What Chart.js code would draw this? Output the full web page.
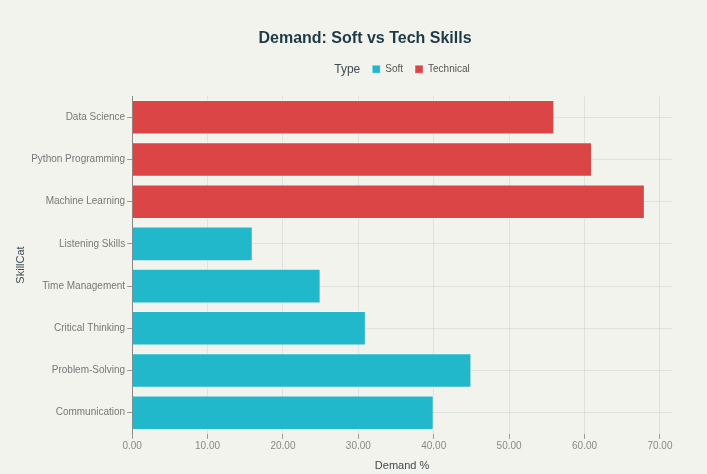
<!DOCTYPE html>
<html>
<head>
<meta charset="utf-8">
<script src="https://cdn.jsdelivr.net/npm/chart.js@4"></script>
<style>
  html, body { margin: 0; padding: 0; background: #f3f3ee; }
  #wrap { width: 707px; height: 474px; }
</style>
</head>
<body>
<div id="wrap"><canvas id="skillChart" width="707" height="474"></canvas></div>
<script>
// data
const skills = ["Data Science", "Python Programming", "Machine Learning", "Listening Skills",
    "Time Management", "Critical Thinking", "Problem-Solving", "Communication"];
const softValues = [null, null, null, 16, 25, 31, 45, 40];
const techValues = [56, 61, 68, null, null, null, null, null];
const xTicks = [0, 10, 20, 30, 40, 50, 60, 70];

const FONT = "'Liberation Sans', Arial, sans-serif";

// legend a bit taller, legend + title nudged right, and "Type" drawn before the items
const legendTweaks = {
    id: "legendTweaks",
    beforeInit(chart) {
        const fit = chart.legend.fit;
        chart.legend.fit = function () {
            fit.call(this);
            this.height += 12;
        };
    },
    afterLayout(chart) {
        const lg = chart.legend;
        const dx = 421 - (lg.left + lg.right) / 2;
        lg.left += dx;
        lg.right += dx;
        const t = chart.titleBlock;
        const tx = 365 - (t.left + t.right) / 2;
        t.left += tx;
        t.right += tx;
    },
    afterDraw(chart) {
        const boxes = chart.legend.legendHitBoxes;
        if (!boxes || !boxes.length) return;
        const c = chart.ctx;
        c.save();
        c.font = "12px " + FONT;
        c.fillStyle = "#3d4b52";
        c.textAlign = "right";
        c.textBaseline = "middle";
        c.fillText("Type", boxes[0].left - 12, boxes[0].top + boxes[0].height / 2);
        c.restore();
    }
};

document.addEventListener("DOMContentLoaded", function () {
    const ctx = document.getElementById("skillChart").getContext("2d");
    new Chart(ctx, {
        type: "bar",
        data: {
            labels: skills,
            datasets: [{
                label: "Soft",
                data: softValues,
                backgroundColor: "#21b8cc",
                borderColor: "rgba(255,255,255,0.35)",
                borderWidth: 1
            }, {
                label: "Technical",
                data: techValues,
                backgroundColor: "#db4545",
                borderColor: "rgba(255,255,255,0.35)",
                borderWidth: 1
            }]
        },
        options: {
            indexAxis: "y",
            responsive: false,
            animation: false,
            devicePixelRatio: 1,
            layout: { padding: { left: 14, right: 35, top: 19, bottom: 1 } },
            datasets: { bar: { grouped: false, categoryPercentage: 0.82, barPercentage: 1 } },
            plugins: {
                title: {
                    display: true,
                    text: "Demand: Soft vs Tech Skills",
                    color: "#1e3a47",
                    font: { family: FONT, size: 16, weight: "bold" },
                    padding: { top: 10, bottom: 4 }
                },
                legend: {
                    display: true,
                    labels: {
                        boxWidth: 8,
                        boxHeight: 8,
                        padding: 12,
                        color: "#555",
                        font: { family: FONT, size: 10 }
                    }
                },
                tooltip: { enabled: false }
            },
            scales: {
                x: {
                    min: 0,
                    max: 71.6,
                    afterBuildTicks: axis => { axis.ticks = xTicks.map(v => ({ value: v })); },
                    ticks: {
                        color: "#888",
                        font: { family: FONT, size: 10 },
                        callback: v => Number(v).toFixed(2),
                        padding: 1
                    },
                    grid: { color: "rgba(0,0,0,0.07)", tickLength: 5, tickColor: "#999" },
                    border: { display: false },
                    title: {
                        display: true,
                        text: "Demand %",
                        color: "#3d4b52",
                        font: { family: FONT, size: 11 },
                        padding: { top: 7, bottom: 0 }
                    }
                },
                y: {
                    ticks: {
                        color: "#777",
                        font: { family: FONT, size: 10 },
                        padding: 2
                    },
                    grid: { offset: false, color: "rgba(0,0,0,0.07)", tickLength: 5, tickColor: "#999" },
                    border: { display: true, color: "#888", width: 1 },
                    title: {
                        display: true,
                        text: "SkillCat",
                        color: "#3d4b52",
                        font: { family: FONT, size: 11 },
                        padding: { top: 0, bottom: 2 }
                    }
                }
            }
        },
        plugins: [legendTweaks]
    });
});
</script>
</body>
</html>
